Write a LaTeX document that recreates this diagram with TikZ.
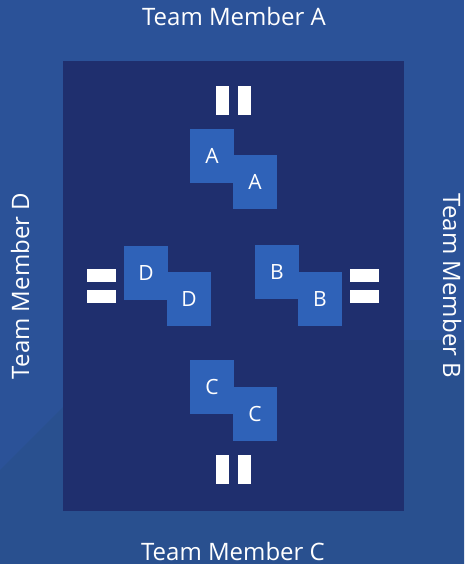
\documentclass[tikz,border=0pt]{standalone}
\usepackage{fontspec}
\setmainfont{Open Sans}
\definecolor{bgblue}{HTML}{2B5298}
\definecolor{bgdark}{HTML}{29508F}
\definecolor{inner}{HTML}{1F2F6E}
\definecolor{tile}{HTML}{2F62B8}
\begin{document}
\begin{tikzpicture}[x=1pt,y=-1pt,
  tilebox/.style={fill=tile,draw=none,minimum width=44pt,minimum height=54pt,inner sep=0pt,text=white,font=\fontsize{21}{21}\selectfont},
  barbox/.style={fill=white,draw=none,inner sep=0pt},
  side/.style={text=white,font=\fontsize{24}{24}\selectfont,inner sep=0pt}]
\fill[bgblue] (0,0) rectangle (464,564);
\fill[bgdark] (0,470) -- (130,340) -- (464,340) -- (464,564) -- (0,564) -- cycle;
\fill[inner] (63,61) rectangle (404,511);
% A
\node[tilebox] (a1) at (212,156) {A};
\node[tilebox] (a2) at (255,182) {A};
\node[barbox,minimum width=13pt,minimum height=29pt] (abar1) at (222.5,101) {};
\node[barbox,minimum width=13pt,minimum height=29pt] (abar2) at (244.5,101) {};
% D
\node[tilebox] (d1) at (146,273) {D};
\node[tilebox] (d2) at (189,299) {D};
\node[barbox,minimum width=29pt,minimum height=13pt] (dbar1) at (101.5,275.5) {};
\node[barbox,minimum width=29pt,minimum height=13pt] (dbar2) at (101.5,296.5) {};
% B
\node[tilebox] (b1) at (277,272) {B};
\node[tilebox] (b2) at (320,299) {B};
\node[barbox,minimum width=29pt,minimum height=13pt] (bbar1) at (364.5,275.5) {};
\node[barbox,minimum width=29pt,minimum height=13pt] (bbar2) at (364.5,296.5) {};
% C
\node[tilebox] (c1) at (212,387) {C};
\node[tilebox] (c2) at (255,413.5) {C};
\node[barbox,minimum width=13pt,minimum height=29pt] (cbar1) at (222.5,469.5) {};
\node[barbox,minimum width=13pt,minimum height=29pt] (cbar2) at (244.5,469.5) {};
% labels
\node[side] (ta) at (234,17) {Team Member A};
\node[side] (tc) at (233,551) {Team Member C};
\node[side,rotate=90] (td) at (20,286) {Team Member D};
\node[side,rotate=-90] (tb) at (452,286) {Team Member B};
\end{tikzpicture}
\end{document}
